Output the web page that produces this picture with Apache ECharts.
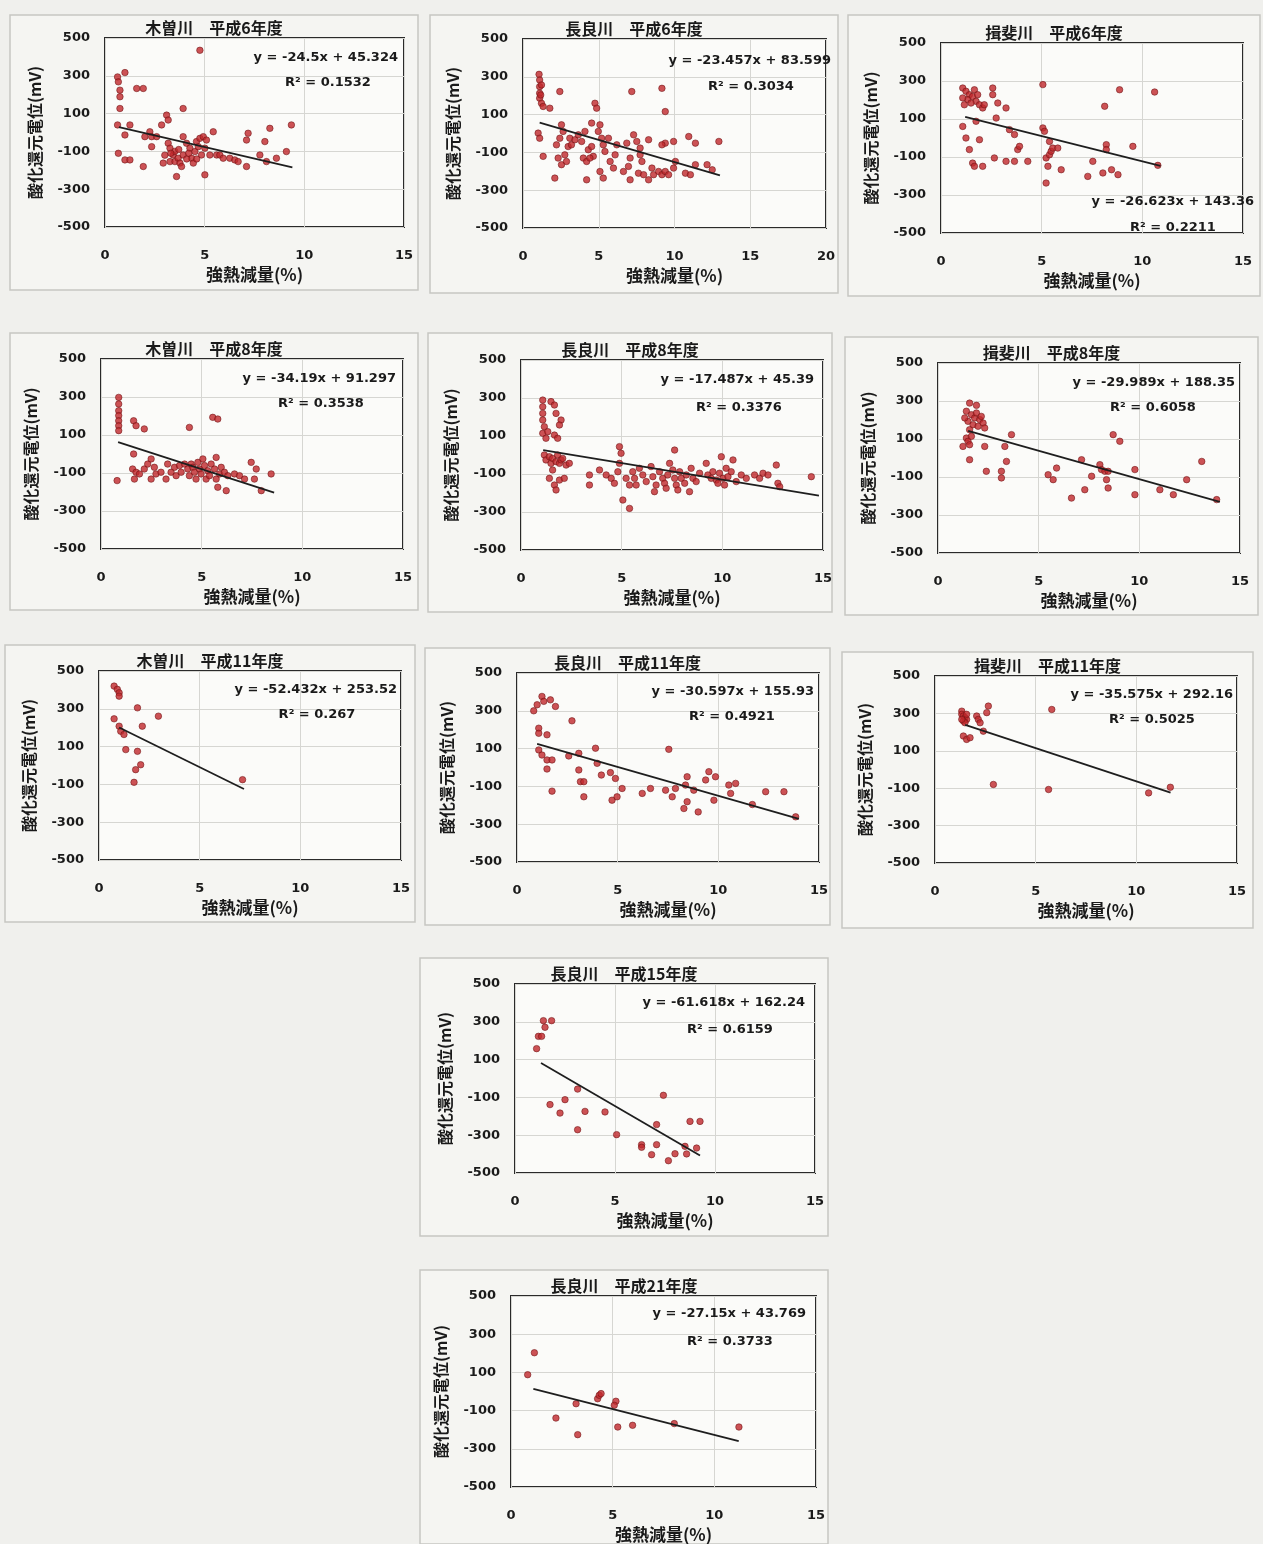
<!DOCTYPE html>
<html><head><meta charset="utf-8">
<script src="https://cdn.jsdelivr.net/npm/echarts@6/dist/echarts.min.js"></script>
<style>html,body{margin:0;padding:0;background:#f0f0ed}#c{width:1263px;height:1544px}</style>
</head><body><div id="c"></div><script>
// ---- chart texts ----
const titles = ['木曽川　平成6年度','長良川　平成6年度','揖斐川　平成6年度',
  '木曽川　平成8年度','長良川　平成8年度','揖斐川　平成8年度',
  '木曽川　平成11年度','長良川　平成11年度','揖斐川　平成11年度',
  '長良川　平成15年度','長良川　平成21年度'];
const eqLabels = ['y = -24.5x + 45.324','y = -23.457x + 83.599','y = -26.623x + 143.36',
  'y = -34.19x + 91.297','y = -17.487x + 45.39','y = -29.989x + 188.35',
  'y = -52.432x + 253.52','y = -30.597x + 155.93','y = -35.575x + 292.16',
  'y = -61.618x + 162.24','y = -27.15x + 43.769'];
const r2Labels = ['R² = 0.1532','R² = 0.3034','R² = 0.2211','R² = 0.3538','R² = 0.3376','R² = 0.6058',
  'R² = 0.267','R² = 0.4921','R² = 0.5025','R² = 0.6159','R² = 0.3733'];
const xName = '強熱減量(%)';
const yName = '酸化還元電位(mV)';
// ---- axis ranges ----
const xMaxes = [15,20,15,15,15,15,15,15,15,15,15];
const yMin = -500, yMax = 500;
// ---- trend lines (from the printed equations) ----
const slopes = [-24.5,-23.457,-26.623,-34.19,-17.487,-29.989,-52.432,-30.597,-35.575,-61.618,-27.15];
const intercepts = [45.324,83.599,143.36,91.297,45.39,188.35,253.52,155.93,292.16,162.24,43.769];
const trendFrom = [0.7,1.1,1.2,0.85,1.1,1.5,1.0,1.0,1.5,1.3,1.1];
const trendTo = [9.4,13.0,10.9,8.6,14.8,14.0,7.2,14.0,11.7,9.25,11.2];
// ---- scatter data [強熱減量, 酸化還元電位] ----
const kiso6 = [[4.76,435],[0.63,294],[0.67,268],[1.0,317],[0.75,224],[0.75,189],[0.75,127],[0.63,40],[1.0,-13],[0.67,-110],[1.0,-145],[1.25,-145],[1.59,233],[1.92,233],[1.25,40],[1.92,-180],[2.0,-22],[2.25,4],[2.34,-22],[2.34,-75],[2.59,-22],[2.84,40],[3.09,92],[3.17,66],[2.92,-162],[3.17,-57],[3.26,-83],[3.42,-119],[3.26,-154],[3.51,-154],[3.67,-136],[3.76,-162],[3.92,-119],[3.84,-180],[3.92,127],[3.59,-233],[3.92,-22],[4.09,-57],[4.26,-83],[4.34,-136],[4.43,-162],[4.51,-101],[4.59,-48],[4.68,-75],[4.76,-31],[4.84,-119],[4.93,-22],[5.01,-83],[5.09,-40],[5.26,-119],[5.43,4],[5.01,-224],[5.6,-119],[5.76,-119],[5.93,-136],[6.26,-136],[6.51,-145],[6.68,-154],[7.1,-40],[7.18,-4],[7.1,-180],[7.77,-119],[8.02,-48],[8.1,-154],[8.27,22],[8.6,-136],[9.1,-101],[9.35,40],[3.5,-100],[3.7,-90],[4.1,-140],[4.2,-110],[4.6,-140],[3.3,-110],[3.0,-120]];
const nagara6 = [[1.06,313],[1.1,283],[1.1,248],[1.1,213],[1.1,187],[1.22,160],[1.33,143],[1.22,257],[1.17,204],[1.0,2],[1.1,-25],[1.33,-121],[1.77,134],[2.43,222],[2.1,-236],[2.54,46],[2.65,11],[2.43,-25],[2.21,-60],[2.32,-130],[2.54,-165],[2.76,-113],[2.98,-69],[2.87,-148],[3.09,-25],[3.2,-60],[3.43,-33],[3.65,-7],[3.87,-42],[4.09,11],[3.98,-130],[4.2,-148],[4.31,-86],[4.53,-69],[4.64,-121],[4.42,-130],[4.2,-245],[4.53,55],[4.75,160],[4.86,134],[4.97,11],[5.08,46],[5.19,-25],[5.3,-60],[5.41,-95],[5.64,-25],[5.75,-148],[5.97,-183],[5.08,-201],[5.3,-236],[6.08,-113],[6.19,-60],[6.63,-201],[6.96,-174],[7.07,-130],[6.85,-51],[7.07,-245],[7.18,222],[7.3,-7],[7.51,-42],[7.73,-77],[7.73,-113],[7.85,-148],[8.29,-33],[7.62,-210],[7.96,-218],[8.29,-245],[8.51,-183],[8.62,-218],[8.95,-201],[9.17,-218],[9.39,-201],[9.61,-218],[9.94,-183],[9.17,239],[9.39,116],[9.39,-51],[9.17,-60],[10.06,-148],[9.94,-42],[10.72,-210],[10.94,-16],[11.38,-51],[11.38,-165],[11.05,-218],[12.15,-165],[12.49,-192],[12.93,-42]];
const ibi6 = [[1.08,263],[1.24,246],[1.41,228],[1.33,202],[1.57,219],[1.74,193],[1.91,175],[2.07,158],[1.49,184],[1.16,175],[1.08,211],[1.66,254],[1.82,228],[2.15,175],[1.08,61],[1.24,0],[1.41,-61],[1.57,-132],[1.66,-149],[1.91,-9],[2.07,-149],[1.74,88],[2.57,263],[2.57,228],[2.82,184],[3.23,158],[2.74,105],[2.65,-105],[3.23,-123],[3.65,-123],[3.4,44],[3.65,18],[3.81,-61],[3.9,-44],[4.31,-123],[5.06,281],[5.06,53],[5.14,35],[5.22,-237],[5.22,-105],[5.31,-149],[5.39,-88],[5.47,-70],[5.55,-53],[5.8,-53],[5.97,-167],[5.39,-18],[7.29,-202],[7.54,-123],[8.04,-184],[8.13,167],[8.21,-35],[8.21,-61],[8.47,-167],[8.79,-193],[8.87,254],[9.53,-44],[10.61,242],[10.77,-144]];
const kiso8 = [[0.88,298],[0.88,263],[0.88,228],[0.88,202],[0.88,175],[0.88,149],[0.88,123],[0.8,-140],[1.62,175],[1.74,149],[2.15,132],[1.62,0],[1.57,-79],[1.74,-96],[1.91,-105],[1.66,-132],[2.15,-79],[2.32,-53],[2.49,-26],[2.49,-132],[2.65,-70],[2.73,-105],[2.98,-96],[3.23,-132],[3.31,-53],[3.48,-96],[3.65,-70],[3.73,-114],[3.9,-61],[3.98,-96],[4.15,-53],[4.31,-79],[4.39,140],[4.39,-114],[4.48,-53],[4.56,-70],[4.64,-96],[4.72,-132],[4.81,-44],[4.89,-79],[4.97,-105],[5.06,-26],[5.14,-61],[5.22,-132],[5.3,-88],[5.39,-114],[5.47,-53],[5.64,-79],[5.72,-18],[5.72,-132],[5.8,-175],[5.89,-105],[5.97,-70],[6.13,-96],[6.22,-193],[6.3,-114],[5.55,193],[5.8,184],[6.63,-105],[6.88,-114],[7.13,-132],[7.46,-44],[7.71,-79],[7.62,-132],[7.96,-193],[8.45,-105]];
const nagara8 = [[1.08,289],[1.08,254],[1.08,219],[1.08,184],[1.16,149],[1.08,114],[1.24,88],[1.33,123],[1.49,281],[1.66,263],[1.74,219],[1.99,184],[1.91,158],[1.66,105],[1.82,88],[1.16,0],[1.24,-26],[1.41,-9],[1.49,-44],[1.57,-18],[1.74,-35],[1.82,0],[1.91,-44],[1.99,-26],[2.07,-18],[2.24,-53],[2.4,-44],[1.41,-123],[1.66,-158],[1.74,-184],[1.91,-132],[2.15,-123],[1.57,-79],[3.4,-105],[3.4,-158],[3.9,-79],[4.23,-105],[4.48,-123],[4.64,-149],[4.89,44],[4.97,9],[4.89,-44],[4.81,-88],[5.06,-237],[5.39,-281],[5.22,-123],[5.39,-158],[5.55,-88],[5.64,-123],[5.72,-158],[5.88,-70],[6.05,-105],[6.22,-140],[6.46,-61],[6.55,-114],[6.71,-158],[6.63,-193],[6.88,-88],[7.04,-123],[7.13,-149],[7.21,-175],[7.29,-105],[7.38,-44],[7.54,-79],[7.63,-123],[7.71,-158],[7.79,-184],[7.63,26],[7.88,-88],[7.96,-123],[8.13,-149],[8.21,-105],[8.37,-193],[8.45,-70],[8.54,-123],[8.7,-140],[8.87,-96],[9.2,-44],[9.28,-105],[9.45,-123],[9.53,-88],[9.7,-132],[9.78,-149],[9.86,-96],[9.95,-9],[10.03,-123],[10.11,-158],[10.19,-70],[10.28,-114],[10.44,-88],[10.53,-26],[10.69,-140],[10.94,-105],[11.19,-123],[11.6,-105],[11.85,-123],[12.02,-96],[12.27,-105],[12.68,-53],[12.76,-149],[12.85,-167],[14.42,-114]];
const ibi8 = [[1.57,289],[1.91,277],[1.41,246],[1.66,228],[1.82,211],[2.07,202],[2.24,184],[1.49,193],[1.74,175],[1.99,167],[2.32,158],[1.57,149],[1.33,211],[1.91,237],[2.15,219],[1.41,105],[1.49,88],[1.24,61],[1.57,70],[1.66,114],[1.57,-9],[2.32,61],[2.4,-70],[3.15,-70],[3.15,-105],[3.32,61],[3.4,-18],[3.65,123],[5.47,-88],[5.72,-114],[5.89,-53],[6.63,-211],[7.13,-9],[7.29,-167],[7.63,-96],[8.04,-35],[8.12,-61],[8.29,-70],[8.37,-114],[8.45,-70],[8.45,-158],[8.7,123],[9.03,88],[9.78,-61],[9.78,-193],[11.02,-167],[11.69,-193],[12.35,-114],[13.1,-18],[13.84,-219]];
const kiso11 = [[0.75,420],[0.91,403],[1.0,385],[1.0,367],[0.75,247],[1.0,208],[1.08,181],[1.24,164],[1.33,84],[1.91,305],[2.15,208],[1.91,75],[1.82,-22],[2.07,4],[1.74,-89],[2.95,261],[7.13,-75]];
const nagara11 = [[0.83,300],[1.0,332],[1.24,376],[1.33,350],[1.66,358],[1.91,323],[1.08,208],[1.08,181],[1.49,173],[2.73,247],[1.08,93],[1.24,66],[1.49,40],[1.74,40],[1.49,-8],[1.74,-125],[2.57,61],[3.07,75],[3.07,-13],[3.15,-75],[3.32,-75],[3.32,-155],[3.9,102],[3.98,22],[4.19,-40],[4.64,-27],[4.72,-173],[4.89,-58],[4.97,-155],[5.22,-111],[6.22,-137],[6.63,-111],[7.38,-120],[7.54,96],[7.71,-155],[7.87,-111],[8.29,-217],[8.45,-181],[8.45,-49],[8.37,-93],[9.0,-235],[8.78,-120],[9.37,-66],[9.53,-22],[9.86,-49],[9.78,-173],[10.52,-93],[10.61,-137],[10.86,-84],[12.35,-128],[13.26,-128],[13.84,-261],[11.69,-196]];
const ibi11 = [[1.33,312],[1.33,295],[1.41,286],[1.49,277],[1.57,268],[1.41,259],[1.49,250],[1.33,268],[1.57,295],[1.41,179],[1.57,161],[1.74,170],[2.07,286],[2.15,268],[2.24,250],[2.4,205],[2.57,304],[2.65,339],[2.9,-80],[5.8,321],[5.64,-107],[10.61,-125],[11.69,-95]];
const nagara15 = [[1.08,158],[1.17,223],[1.33,223],[1.42,306],[1.5,271],[1.83,306],[1.75,-138],[2.25,-183],[2.5,-112],[3.13,-56],[3.13,-271],[3.5,-174],[4.5,-177],[5.08,-297],[6.33,-350],[6.33,-364],[6.83,-403],[7.08,-244],[7.08,-350],[7.42,-89],[7.67,-435],[8.0,-398],[8.5,-359],[8.58,-399],[8.75,-227],[9.08,-368],[9.25,-227]];
const nagara21 = [[0.82,88],[1.15,203],[2.21,-139],[3.2,-64],[3.28,-226],[4.26,-38],[4.34,-20],[4.43,-11],[5.16,-51],[5.08,-72],[5.25,-186],[5.98,-177],[8.03,-168],[11.21,-186]];
const seriesData = [kiso6,nagara6,ibi6,kiso8,nagara8,ibi8,kiso11,nagara11,ibi11,nagara15,nagara21];

// ---- layout (pixels) : plot box [L,T,R,B], outer frame [x0,y0,x1,y1], eq [right,y], r2 [cx,y] ----
const boxes = [[105,38,404,227],[523,39,826,228],[941,43,1243,233],
  [101,359,403,549],[521,360,823,550],[938,363,1240,553],
  [99,671,401,860],[517,673,819,862],[935,676,1237,863],
  [515,984,815,1173],[511,1296,816,1487]];
const frames = [[10,15,418,290],[430,15,838,293],[848,15,1260,296],
  [10,333,418,610],[428,333,832,612],[845,337,1258,615],
  [5,645,415,922],[425,648,830,925],[842,652,1253,928],
  [420,958,828,1236],[420,1270,828,1544]];
const eqPos = [[398,58],[831,61],[1254,202],[396,379],[814,380],[1235,383],[397,690],[814,692],[1233,695],[805,1003],[806,1314]];
const r2Pos = [[328,83],[751,87],[1173,228],[321,404],[739,408],[1153,408],[317,715],[732,717],[1152,720],[730,1030],[730,1342]];

const txt = '#1a1a1a';
const numFont = 'DejaVu Sans';
const grids=[], xAxes=[], yAxes=[], series=[], graphics=[];
for (let i=0;i<11;i++){
  const [L,T,R,B]=boxes[i];
  const f=frames[i];
  graphics.push({type:'rect', z:-10, shape:{x:f[0],y:f[1],width:f[2]-f[0],height:f[3]-f[1]},
    style:{fill:'#f5f5f2', stroke:'#c6c6c2', lineWidth:1.5}});
  grids.push({left:L, top:T, width:R-L, height:B-T, show:true, backgroundColor:'#fbfbf9', borderColor:'#2a2a2a', borderWidth:2});
  xAxes.push({gridIndex:i, type:'value', min:0, max:xMaxes[i], interval:5,
    axisLine:{show:false}, axisTick:{show:false},
    splitLine:{show:true, lineStyle:{color:'#d6d6d2', width:1}},
    axisLabel:{margin:22, fontSize:13, fontWeight:'bold', color:txt, fontFamily:numFont}});
  yAxes.push({gridIndex:i, type:'value', min:yMin, max:yMax, interval:100,
    axisLine:{show:false}, axisTick:{show:false},
    splitLine:{show:true, lineStyle:{color:['#d6d6d2','rgba(0,0,0,0)'], width:1}},
    axisLabel:{margin:15, fontSize:13, fontWeight:'bold', color:txt, fontFamily:numFont,
      formatter:v=> (Math.abs(Math.round(v/100))%2===1 ? String(v) : '')}});
  series.push({type:'scatter', xAxisIndex:i, yAxisIndex:i, data:seriesData[i], symbolSize:6.5,
    itemStyle:{color:'#c0282c', borderColor:'#6e1214', borderWidth:0.7}, z:3});
  const a=slopes[i], b=intercepts[i];
  series.push({type:'line', xAxisIndex:i, yAxisIndex:i, symbol:'none', silent:true, z:4,
    data:[[trendFrom[i], a*trendFrom[i]+b],[trendTo[i], a*trendTo[i]+b]],
    lineStyle:{color:'#1e1e1e', width:1.8}});
  // title
  graphics.push({type:'text', z:10, x:(f[0]+f[2])/2, y:T-10,
    style:{text:titles[i], fill:txt, fontSize:16, fontWeight:'bold', fontFamily:'Noto Sans CJK JP', align:'center', verticalAlign:'middle'}});
  // equation & R2
  graphics.push({type:'text', z:10, x:eqPos[i][0], y:eqPos[i][1],
    style:{text:eqLabels[i], fill:txt, fontSize:13, fontWeight:'bold', fontFamily:numFont, align:'right', verticalAlign:'middle'}});
  graphics.push({type:'text', z:10, x:r2Pos[i][0], y:r2Pos[i][1],
    style:{text:r2Labels[i], fill:txt, fontSize:13, fontWeight:'bold', fontFamily:numFont, align:'center', verticalAlign:'middle'}});
  // axis names
  graphics.push({type:'text', z:10, x:(L+R)/2, y:B+48,
    style:{text:xName, fill:txt, fontSize:17, fontWeight:'bold', fontFamily:'Noto Sans CJK JP', align:'center', verticalAlign:'middle'}});
  graphics.push({type:'text', z:10, x:L-70, y:(T+B)/2, rotation:Math.PI/2,
    style:{text:yName, fill:txt, fontSize:16, fontWeight:'bold', fontFamily:'Noto Sans CJK JP', align:'center', verticalAlign:'middle'}});
}
const chart = echarts.init(document.getElementById('c'), null, {renderer:'canvas'});
chart.setOption({backgroundColor:'#f0f0ed', animation:false, grid:grids, xAxis:xAxes, yAxis:yAxes, series, graphic:graphics});
</script></body></html>
